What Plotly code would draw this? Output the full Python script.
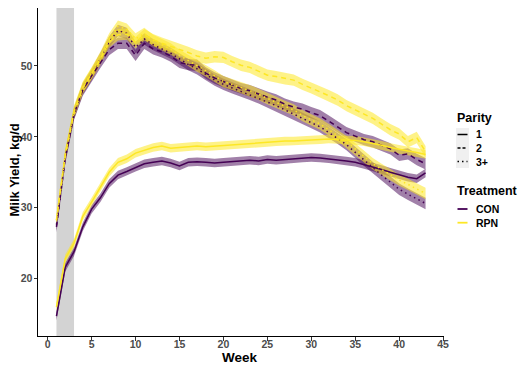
import plotly.graph_objects as go

# ---------------- data ----------------
weeks = list(range(1, 44))

con_p1 = [14.7, 21.6, 23.8, 27.3, 29.8, 31.4, 33.4, 34.6, 35.1, 35.7, 36.2, 36.4, 36.6, 36.3, 35.9,
          36.4, 36.5, 36.4, 36.3, 36.4, 36.5, 36.6, 36.7, 36.6, 36.8, 36.7, 36.8, 36.9, 37.0, 37.1,
          37.0, 36.9, 36.8, 36.6, 36.4, 36.1, 35.8, 35.4, 35.0, 34.6, 34.3, 34.1, 34.9]
rpn_p1 = [16.0, 22.8, 25.0, 28.8, 30.8, 32.8, 35.0, 36.4, 36.9, 37.7, 38.1, 38.5, 38.7, 38.4, 38.5,
          38.6, 38.7, 38.6, 38.7, 38.8, 38.9, 39.0, 39.1, 39.1, 39.2, 39.3, 39.4, 39.4, 39.5, 39.6,
          39.6, 39.7, 39.6, 39.6, 39.5, 39.3, 39.1, 38.8, 38.5, 38.2, 38.0, 37.8, 37.5]
con_p2 = [27.3, 37.0, 43.2, 46.6, 48.6, 50.5, 52.3, 53.2, 53.2, 51.5, 53.2, 52.4, 52.0, 51.4, 50.5,
          50.2, 50.1, 49.0, 48.3, 47.8, 47.3, 46.8, 46.5, 46.0, 45.6, 45.2, 44.6, 44.2, 43.9, 43.4,
          43.0, 42.2, 41.4, 40.6, 40.1, 39.6, 39.3, 38.8, 38.3, 37.4, 37.6, 36.8, 36.2]
rpn_p2 = [28.2, 37.4, 43.5, 46.9, 48.9, 51.0, 53.4, 54.4, 54.5, 53.3, 54.4, 53.7, 53.2, 52.8, 52.3,
          51.9, 51.4, 51.1, 51.3, 51.2, 50.6, 50.1, 49.8, 49.2, 48.7, 48.5, 48.2, 48.0, 47.4, 46.9,
          46.4, 45.8, 45.2, 44.4, 43.8, 43.2, 42.6, 41.8, 41.0, 40.4, 39.3, 39.9, 37.9]
con_p3 = [27.6, 37.2, 43.3, 46.8, 48.8, 51.0, 53.4, 55.0, 54.6, 52.6, 53.8, 53.0, 52.4, 51.8, 51.0,
          50.2, 49.6, 48.8, 48.0, 47.4, 46.9, 46.4, 46.0, 45.5, 45.0, 44.4, 43.8, 43.2, 42.6, 42.0,
          41.4, 40.6, 39.8, 38.9, 37.8, 36.7, 35.6, 34.6, 33.6, 32.6, 31.9, 31.2, 30.6]
rpn_p3 = [28.3, 37.5, 43.6, 47.0, 49.0, 51.2, 53.8, 55.6, 55.2, 53.8, 54.6, 53.6, 53.0, 52.4, 51.5,
          50.8, 50.0, 49.3, 48.6, 47.8, 47.4, 46.9, 46.5, 46.0, 45.4, 44.9, 44.3, 43.8, 43.0, 42.4,
          41.8, 41.0, 40.2, 39.3, 38.3, 37.2, 36.2, 35.4, 34.6, 33.9, 33.3, 32.7, 32.0]

# half-width of the confidence ribbon for each parity
ci_half = {"1": 0.6, "2": 0.8, "3+": 0.8}

parity_labels = ["1", "2", "3+"]
treatment_labels = ["CON", "RPN"]
x_ticks = [0, 5, 10, 15, 20, 25, 30, 35, 40, 45]
y_ticks = [20, 30, 40, 50]
shade_weeks = [1, 3]

series = [
    ("CON", "1", con_p1), ("CON", "2", con_p2), ("CON", "3+", con_p3),
    ("RPN", "1", rpn_p1), ("RPN", "2", rpn_p2), ("RPN", "3+", rpn_p3),
]

# ---------------- styles ----------------
line_col = {"CON": "#440154", "RPN": "#FDE725"}
fill_col = {"CON": "rgba(68,1,84,0.5)", "RPN": "rgba(253,231,37,0.55)"}
dash_of = {"1": "solid", "2": "5px,4px", "3+": "1.5px,3.5px"}

fig = go.Figure()

for trt, par, vals in series:
    h = ci_half[par]
    up = [v + h for v in vals]
    lo = [v - h for v in vals]
    fig.add_trace(go.Scatter(
        x=weeks + weeks[::-1], y=up + lo[::-1], fill="toself",
        fillcolor=fill_col[trt], line=dict(width=0), mode="lines",
        hoverinfo="skip", showlegend=False))

for trt, par, vals in series:
    fig.add_trace(go.Scatter(
        x=weeks, y=vals, mode="lines",
        line=dict(color=line_col[trt], width=1.5, dash=dash_of[par]),
        name=f"{trt} {par}", showlegend=False))

# shaded weeks
fig.add_shape(type="rect", xref="x", yref="paper", x0=shade_weeks[0], x1=shade_weeks[1],
              y0=0, y1=1, fillcolor="#D3D3D3", line=dict(width=0), layer="below")

# The page body has an 8px margin, so the figure is drawn 8px smaller and
# positions below are given in on-screen pixels.
OFF = 8
W, H = 526 - OFF, 369 - OFF
SL, SR, ST, SB = 38, 444, 8, 336          # plot area on screen
L, R, T, B = SL - OFF, SR - OFF, ST - OFF, SB - OFF
Y_PER_UNIT = 331 / 46.7                   # px per kg/d in the reference
Y_MIN = 11.9
Y_MAX = Y_MIN + (SB - ST) / Y_PER_UNIT


def px(p):
    return (p - SL) / (SR - SL)


def py(p):
    return (SB - p) / (SB - ST)


FONT = "Liberation Sans, Arial, sans-serif"

# axis titles
fig.add_annotation(x=px(240), y=py(357), xref="paper", yref="paper", text="<b>Week</b>",
                   showarrow=False, xanchor="center", yanchor="middle",
                   font=dict(size=13.5, color="black", family=FONT))
fig.add_annotation(x=px(14), y=py(170.5), xref="paper", yref="paper",
                   text="<b>Milk Yield, kg/d</b>", textangle=-90,
                   showarrow=False, xanchor="center", yanchor="middle",
                   font=dict(size=13, color="black", family=FONT))

# manual legend
fig.add_annotation(x=px(455), y=py(118), xref="paper", yref="paper", text="<b>Parity</b>",
                   showarrow=False, xanchor="left", yanchor="middle",
                   font=dict(size=12.5, color="black", family=FONT))
fig.add_shape(type="rect", xref="paper", yref="paper", x0=px(456), x1=px(469),
              y0=py(168), y1=py(128), fillcolor="#F0F0F0", line=dict(width=0))
for i, lab in enumerate(parity_labels):
    yy = 134.5 + 13.5 * i
    fig.add_shape(type="line", xref="paper", yref="paper", x0=px(457.5), x1=px(467.5),
                  y0=py(yy), y1=py(yy),
                  line=dict(color="black", width=1.5,
                            dash={"1": "solid", "2": "3px,2px", "3+": "1.5px,3px"}[lab]))
    fig.add_annotation(x=px(474), y=py(yy), xref="paper", yref="paper", text=f"<b>{lab}</b>",
                       showarrow=False, xanchor="left", yanchor="middle",
                       font=dict(size=10.5, color="black", family=FONT))

fig.add_annotation(x=px(455), y=py(190.5), xref="paper", yref="paper", text="<b>Treatment</b>",
                   showarrow=False, xanchor="left", yanchor="middle",
                   font=dict(size=12.5, color="black", family=FONT))
for i, lab in enumerate(treatment_labels):
    yy = 209 + 13.7 * i
    fig.add_shape(type="line", xref="paper", yref="paper", x0=px(457.5), x1=px(467.5),
                  y0=py(yy), y1=py(yy), line=dict(color=line_col[lab], width=1.8))
    fig.add_annotation(x=px(474), y=py(yy), xref="paper", yref="paper", text=f"<b>{lab}</b>",
                       showarrow=False, xanchor="left", yanchor="middle",
                       font=dict(size=10.5, color="black", family=FONT))

fig.update_layout(
    width=W, height=H,
    margin=dict(l=L, r=W - R, t=T, b=H - B, autoexpand=False),
    paper_bgcolor="white", plot_bgcolor="white",
    font=dict(family=FONT),
    showlegend=False,
    xaxis=dict(range=[-1.1, 45.1], tickvals=x_ticks, showgrid=False, zeroline=False,
               showline=True, linecolor="black", linewidth=1, automargin=False,
               ticks="outside", ticklen=3.5, tickcolor="#333333", tickwidth=1,
               ticklabelstandoff=-5,
               tickfont=dict(size=10.5, color="#4D4D4D", family=FONT, weight="bold")),
    yaxis=dict(range=[Y_MIN, Y_MAX], tickvals=y_ticks, showgrid=False, zeroline=False,
               showline=True, linecolor="black", linewidth=1, automargin=False,
               ticks="outside", ticklen=3.5, tickcolor="#333333", tickwidth=1,
               ticklabelstandoff=-1,
               tickfont=dict(size=10.5, color="#4D4D4D", family=FONT, weight="bold")),
)

fig.write_html("out.html")
